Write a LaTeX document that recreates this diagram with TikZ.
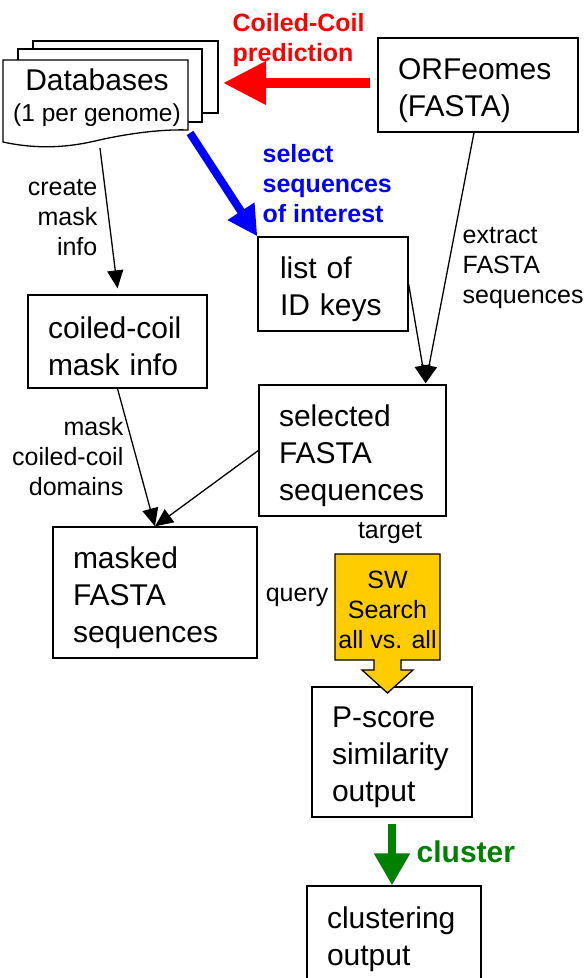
\documentclass[tikz,border=0pt]{standalone}
\usepackage{fontspec}
\setmainfont{Liberation Sans}
\usetikzlibrary{arrows.meta}
\definecolor{swyellow}{RGB}{255,204,0}
\definecolor{ccgreen}{RGB}{0,128,0}

\begin{document}
\begin{tikzpicture}[x=1pt,y=-1pt,line width=1.3pt,
  >={Triangle[length=18pt,width=16pt]},
  box/.style={draw, align=left, inner xsep=20pt, inner ysep=0pt,
    font=\fontsize{30}{37}\selectfont, execute at begin node={\rule{0pt}{32pt}}},
  lbl/.style={inner sep=0pt, font=\fontsize{25}{30}\selectfont},
  blbl/.style={lbl, font=\fontsize{25}{30}\selectfont\bfseries},
  link/.style={->},
  redarrow/.style={line width=10pt, red, -{Triangle[length=43pt,width=41pt]}},
  bluearrow/.style={line width=8pt, blue, -{Triangle[length=30pt,width=30pt]}},
  greenarrow/.style={line width=8pt, ccgreen, -{Triangle[length=32pt,width=34pt]}}]
\useasboundingbox (0,0) rectangle (584,978);

% database stack
\draw[fill=white] (33,41) rectangle (218,113);
\draw[fill=white] (18,49) rectangle (202,122);
\draw[fill=white] (3,60) -- (188,60) -- (188,130)
  .. controls (160,129) and (125,134) .. (95,141)
  .. controls (65,148) and (35,149) .. (3,142) -- cycle;
\node[inner sep=0pt, font=\fontsize{30}{35}\selectfont] (db) at (97,80) {Databases};
\node[inner sep=0pt, font=\fontsize{24.5}{30}\selectfont] (dbnote) at (97,115) {(1 per genome)};
\coordinate (dbin) at (223,83);
\coordinate (dbmask) at (100,148);
\coordinate (dbsel) at (190,133);

\node[box, text width=160pt, minimum height=94pt] (orf) at (478,85) {ORFeomes\\(FASTA)};
\node[box, text width=106pt, inner xsep=22pt, minimum height=94pt] (ids) at (333,284) {list of\\ID keys};
\node[box, text width=147pt, minimum height=131pt] (sel) at (352.5,450.5) {selected\\FASTA\\sequences};
\node[box, text width=139pt, minimum height=93pt] (mask) at (117.5,341.5) {coiled-coil\\mask info};
\node[box, text width=164pt, minimum height=131pt] (masked) at (155,592.5) {masked\\FASTA\\sequences};
\node[box, text width=120pt, minimum height=130pt] (ps) at (392,752) {P-score\\similarity\\output};
\node[box, text width=134pt, minimum height=96pt] (cl) at (394,934) {clustering\\output};

\draw[redarrow] ([xshift=-7pt,yshift=2pt]orf.west) -- (dbin);
\draw[bluearrow] (dbsel) -- (ids.north west);

\draw[link] (dbmask) -- ([yshift=6pt]mask.north);
\draw[link] (mask.south) -- (masked.north);
\draw[link] (sel.west) -- (masked.north);
\draw[link] ([xshift=-4pt]orf.south) -- ([xshift=-21pt,yshift=1pt]sel.north east);
\draw[link] (ids.east) -- ([xshift=-21pt,yshift=1pt]sel.north east);

\node[blbl, text=red, anchor=west, align=left] (ccp) at (232,40) {Coiled-Coil\\prediction};
\node[blbl, text=blue, anchor=west, align=left] (soi) at (262,184) {select\\sequences\\of interest};
\node[lbl, anchor=east, align=right] (create) at (98,218) {create\\mask\\info};
\node[lbl, anchor=east, align=right] (domains) at (124,457) {mask\\coiled-coil\\domains};
\node[lbl, anchor=west, align=left] (extract) at (462,268) {extract\\FASTA\\sequences};
\node[lbl] (target) at (390,533) {target};
\node[lbl, anchor=east] (query) at (329,597) {query};

% SW search block arrow
\filldraw[fill=swyellow] (335,554) -- (440,554) -- (440,660) -- (401,660) -- (401,670)
  -- (413,670) -- (387.5,693) -- (362,670) -- (374,670) -- (374,660) -- (335,660) -- cycle;
\node[lbl, align=center] (sw) at (387.5,610) {SW\\Search\\all vs. all};

\draw[greenarrow] ([yshift=-6pt]ps.south) -- (ps.south |- cl.north);
\node[blbl, text=ccgreen, anchor=west, font=\fontsize{30}{36}\selectfont\bfseries] (clu) at (416,852) {cluster};

\end{tikzpicture}
\end{document}
